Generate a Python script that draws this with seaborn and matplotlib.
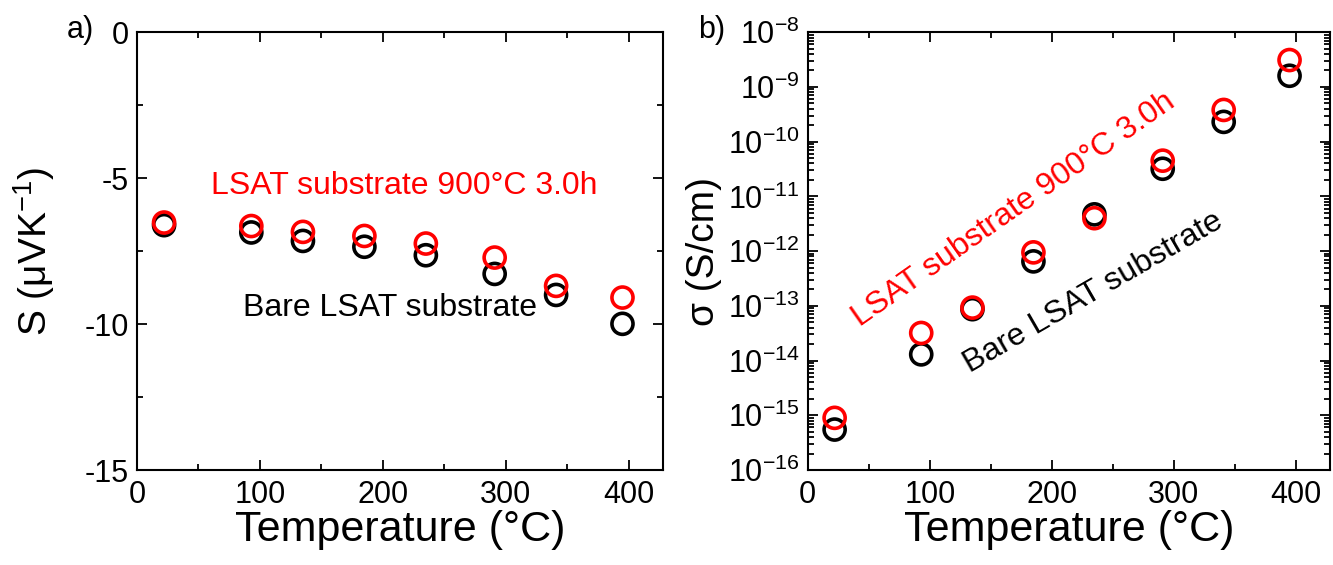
import numpy as np
import pandas as pd
import matplotlib
matplotlib.use("Agg")
import matplotlib.pyplot as plt
import matplotlib.ticker as mticker
import seaborn as sns

# ---- data ----
temperature = [22, 93, 135, 185, 235, 291, 341, 395]
seebeck_lsat_900 = [-6.52, -6.64, -6.84, -6.98, -7.24, -7.72, -8.69, -9.09]
seebeck_bare = [-6.61, -6.86, -7.15, -7.35, -7.64, -8.28, -9.0, -9.99]
sigma_lsat_900 = [9.0e-16, 3.2e-14, 9.3e-14, 9.5e-13, 4.0e-12, 4.5e-11, 3.8e-10, 3.1e-9]
sigma_bare = [5.5e-16, 1.3e-14, 8.7e-14, 6.5e-13, 4.7e-12, 3.2e-11, 2.3e-10, 1.6e-9]
label_lsat = "LSAT substrate 900°C 3.0h"
label_bare = "Bare LSAT substrate"

FONT = ["Liberation Sans", "DejaVu Sans"]

sns.set_style("ticks")
plt.rcParams["font.family"] = FONT
plt.rcParams["mathtext.fontset"] = "custom"
plt.rcParams["mathtext.rm"] = FONT[0]
plt.rcParams["mathtext.it"] = FONT[0]
plt.rcParams["mathtext.default"] = "regular"
plt.rcParams["axes.unicode_minus"] = False
for k in ["text.color", "axes.labelcolor", "xtick.color", "ytick.color"]:
    plt.rcParams[k] = "black"

fig = plt.figure(figsize=(13.33, 5.65), dpi=100)
axA = fig.add_axes([0.1028, 0.168, 0.3946, 0.775])
axB = fig.add_axes([0.606, 0.168, 0.3916, 0.775])

dfA = pd.DataFrame({"T": temperature, "bare": seebeck_bare, "lsat": seebeck_lsat_900})
dfB = pd.DataFrame({"T": temperature, "bare": sigma_bare, "lsat": sigma_lsat_900})

mk = dict(s=230, facecolor="none", linewidth=2.6, legend=False, zorder=3)
sns.scatterplot(data=dfA, x="T", y="bare", ax=axA, edgecolor="black", **mk)
sns.scatterplot(data=dfA, x="T", y="lsat", ax=axA, edgecolor="red", **mk)
sns.scatterplot(data=dfB, x="T", y="bare", ax=axB, edgecolor="black", **mk)
sns.scatterplot(data=dfB, x="T", y="lsat", ax=axB, edgecolor="red", **mk)

XMAX = 428
for ax in (axA, axB):
    ax.set_xlim(0, XMAX)
    ax.xaxis.set_major_locator(mticker.MultipleLocator(100))
    ax.xaxis.set_minor_locator(mticker.MultipleLocator(50))
    ax.tick_params(which="both", direction="in", top=True, right=True, width=1.3)
    ax.tick_params(which="major", length=7, labelsize=22)
    ax.tick_params(axis="x", pad=7)
    ax.tick_params(axis="y", pad=6)
    ax.tick_params(which="minor", length=4)
    for sp in ax.spines.values():
        sp.set_linewidth(1.5)
        sp.set_color("black")
    ax.set_xlabel("Temperature (°C)", fontsize=31, labelpad=0)

# panel a
axA.set_ylim(-15, 0)
axA.yaxis.set_major_locator(mticker.MultipleLocator(5))
axA.yaxis.set_minor_locator(mticker.MultipleLocator(2.5))
axA.set_ylabel("S (μVK$^{-1}$)", fontsize=28, labelpad=20)
axA.text(60, -5.27, label_lsat, color="red", fontsize=23, ha="left", va="center")
axA.text(86, -9.45, label_bare, color="black", fontsize=23, ha="left", va="center")

# panel b
axB.set_yscale("log")
axB.set_ylim(1e-16, 1e-8)
axB.yaxis.set_major_locator(mticker.LogLocator(base=10, numticks=20))
axB.yaxis.set_minor_locator(mticker.LogLocator(base=10, subs=np.arange(2, 10), numticks=20))
axB.yaxis.set_minor_formatter(mticker.NullFormatter())
axB.set_ylabel("σ (S/cm)", fontsize=28, labelpad=4)
axB.text(169, 10**-11.24, label_lsat, color="red", fontsize=23, rotation=35,
         ha="center", va="center", rotation_mode="anchor")
axB.text(234, 10**-12.75, label_bare, color="black", fontsize=23, rotation=30,
         ha="center", va="center", rotation_mode="anchor")

fig.text(80 / 1333, 1 - 30 / 565, "a)", fontsize=22, ha="center", va="center")
fig.text(712 / 1333, 1 - 30 / 565, "b)", fontsize=22, ha="center", va="center")

fig.savefig("out.png", dpi=100)
